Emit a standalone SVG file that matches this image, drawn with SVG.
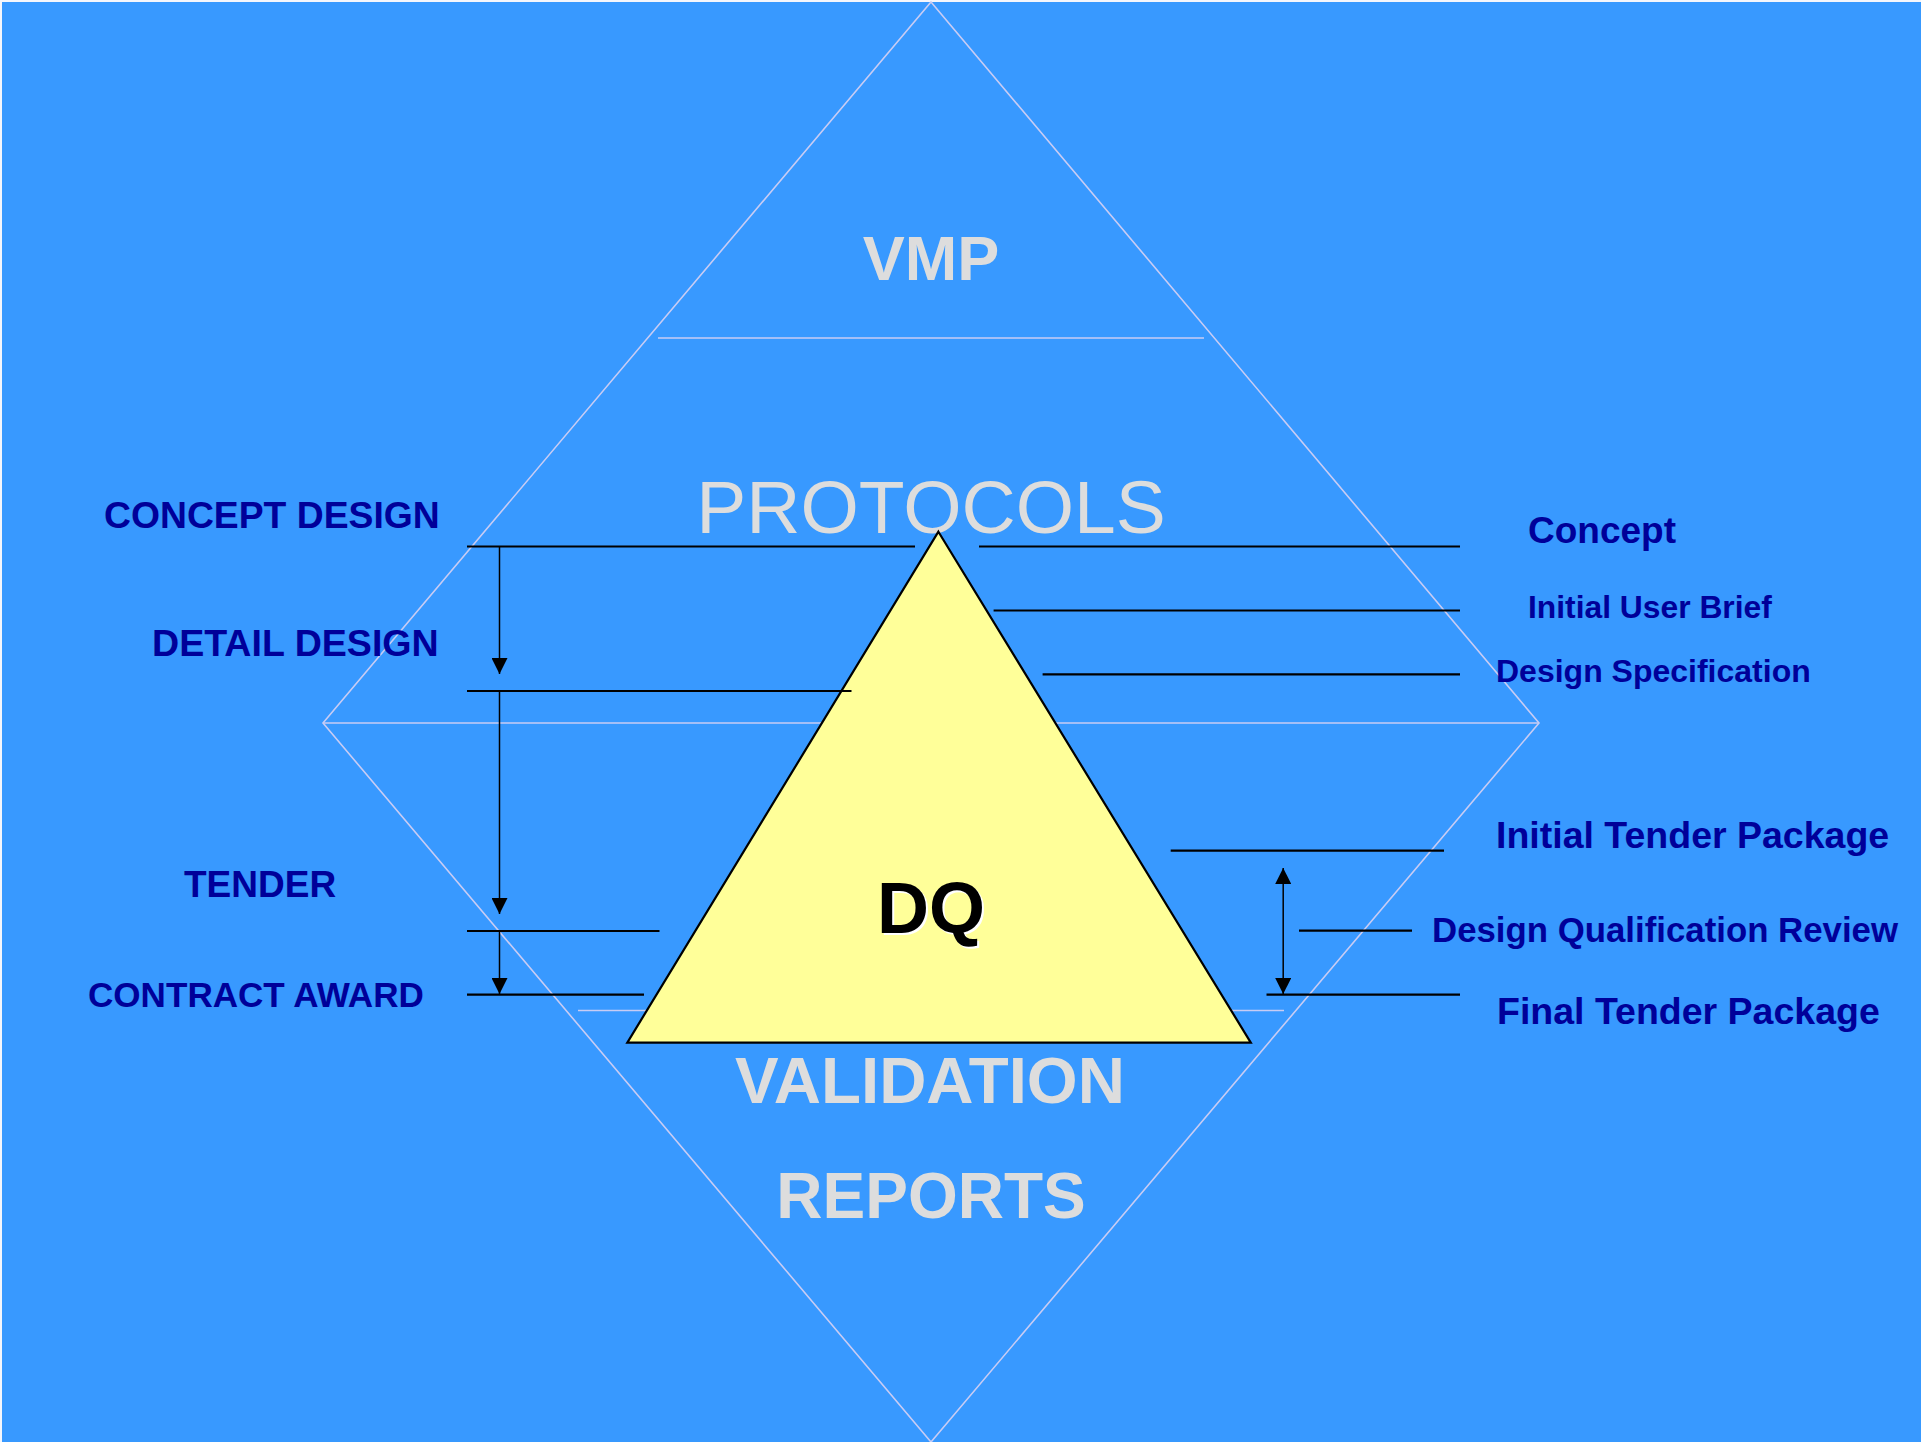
<svg xmlns="http://www.w3.org/2000/svg" width="1921" height="1442" viewBox="0 0 1921 1442">
<defs>
<style>
.lav{stroke:#C8CCF4;stroke-width:1.6;fill:none}
.blk{stroke:#000;stroke-width:2.2}
.stem{stroke:#000;stroke-width:1.5}
.gray{font-family:"Liberation Sans",Arial,sans-serif;fill:#DDDDDD;text-anchor:middle}
.blue{font-family:"Liberation Sans",Arial,sans-serif;font-weight:bold;fill:#000099}
</style>
<marker id="ah" markerUnits="userSpaceOnUse" markerWidth="16" markerHeight="16" refX="15" refY="7.5" orient="auto" viewBox="0 0 15 15">
<path d="M0,0 L15,7.5 L0,15 z" fill="#000"/>
</marker>
</defs>
<rect x="0" y="0" width="1921" height="1442" fill="#F4F6FC"/>
<rect x="2" y="2" width="1919" height="1440" fill="#3899FF"/>
<g id="frame">
<polygon class="lav" points="931,2 1539,723 931,1442 323,723"/>
<line class="lav" x1="658" y1="338" x2="1204" y2="338"/>
<line class="lav" x1="323" y1="723" x2="1539" y2="723"/>
<line class="lav" x1="578" y1="1010.5" x2="1284" y2="1010.5"/>
</g>
<g id="vmp"><text class="gray" x="931" y="280" font-size="63" font-weight="bold">VMP</text></g>
<g id="protocols"><text class="gray" x="931" y="533" font-size="75">PROTOCOLS</text></g>
<g id="validation"><text class="gray" x="930" y="1103" font-size="65.4" font-weight="bold">VALIDATION</text></g>
<g id="reports"><text class="gray" x="931" y="1218" font-size="64" font-weight="bold">REPORTS</text></g>
<g id="dq">
<polygon points="938.4,531.7 1250.8,1042.6 627.3,1042.6" fill="#FFFF99" stroke="#000" stroke-width="2.2" stroke-linejoin="miter"/>
<text x="933" y="935" font-family="Liberation Sans,Arial,sans-serif" font-weight="bold" font-size="72" fill="#FFFFFF" text-anchor="middle">DQ</text>
<text x="931" y="933" font-family="Liberation Sans,Arial,sans-serif" font-weight="bold" font-size="72" fill="#000000" text-anchor="middle">DQ</text>
</g>
<g id="connectors">
<line class="blk" x1="467" y1="546.5" x2="915" y2="546.5"/>
<line class="blk" x1="467" y1="691" x2="851.5" y2="691"/>
<line class="blk" x1="467" y1="931" x2="659.5" y2="931"/>
<line class="blk" x1="467" y1="994.7" x2="644" y2="994.7"/>
<line class="stem" x1="499.5" y1="546.5" x2="499.5" y2="674" marker-end="url(#ah)"/>
<line class="stem" x1="499.5" y1="691" x2="499.5" y2="914" marker-end="url(#ah)"/>
<line class="stem" x1="499.5" y1="931" x2="499.5" y2="994" marker-end="url(#ah)"/>
<line class="blk" x1="979" y1="546.5" x2="1460" y2="546.5"/>
<line class="blk" x1="993.6" y1="610.5" x2="1460" y2="610.5"/>
<line class="blk" x1="1042.6" y1="674.3" x2="1460" y2="674.3"/>
<line class="blk" x1="1170.7" y1="850.7" x2="1444" y2="850.7"/>
<line class="blk" x1="1299" y1="930.7" x2="1412" y2="930.7"/>
<line class="blk" x1="1266.5" y1="994.7" x2="1460" y2="994.7"/>
<line class="stem" x1="1283.2" y1="930" x2="1283.2" y2="868" marker-end="url(#ah)"/>
<line class="stem" x1="1283.2" y1="930" x2="1283.2" y2="994" marker-end="url(#ah)"/>
</g>
<g id="left-labels">
<text class="blue" x="104" y="528" font-size="37.3">CONCEPT DESIGN</text>
<text class="blue" x="152" y="656" font-size="37.6">DETAIL DESIGN</text>
<text class="blue" x="184" y="897" font-size="37">TENDER</text>
<text class="blue" x="88" y="1007" font-size="35.1">CONTRACT AWARD</text>
</g>
<g id="right-labels">
<text class="blue" x="1528" y="543" font-size="37">Concept</text>
<text class="blue" x="1528" y="618" font-size="31.8">Initial User Brief</text>
<text class="blue" x="1496" y="682" font-size="32">Design Specification</text>
<text class="blue" x="1496" y="848" font-size="37.5">Initial Tender Package</text>
<text class="blue" x="1432" y="942" font-size="34.8">Design Qualification Review</text>
<text class="blue" x="1497" y="1024" font-size="37.5">Final Tender Package</text>
</g>
</svg>
